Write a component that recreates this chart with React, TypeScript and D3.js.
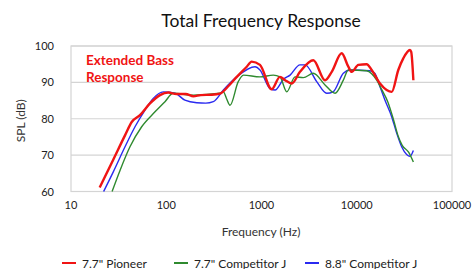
import { useEffect, useRef } from 'react';
import * as d3 from 'd3';

// frequency (Hz) / SPL (dB) pairs
const pioneerHz = [20, 27.6, 37, 43.4, 53, 67.5, 86, 105, 128, 160, 193, 230, 300, 366, 450, 550, 700, 788, 964, 1280, 1563, 1770, 2075, 2535, 3500, 4645, 5460, 6950, 8160, 8850, 10400, 12700, 14350, 17550, 20600, 23300, 27300, 30800, 36200, 37300, 39300];
const pioneerDb = [61.1, 68.6, 75.5, 79.1, 81, 84.2, 86.5, 87.2, 86.8, 86.8, 86.2, 86.5, 86.6, 86.9, 89, 91.5, 94.3, 95.7, 94.8, 88.1, 91.5, 90.6, 89.7, 92.9, 96.1, 90.6, 92.9, 98, 94.3, 92.9, 94.8, 95, 93.4, 89.7, 87.9, 87.4, 93.4, 96.6, 98.9, 98.4, 90.6];

const compJ77Hz = [27, 32.7, 41.6, 55.2, 76.2, 97, 118, 192, 366, 398, 430, 467, 570, 646, 964, 1330, 1563, 1840, 2250, 2750, 3500, 4645, 5920, 7230, 8160, 12700, 16200, 18300, 21300, 24400, 27000, 30000, 35000, 39300];
const compJ77Db = [60, 65.8, 72.3, 77.8, 81.9, 84.7, 87, 86.5, 87, 87.4, 85.5, 83.7, 90.2, 92, 91.5, 92, 91.5, 87.4, 91.5, 91.3, 92.5, 89.3, 87, 90.6, 93.4, 93.2, 90.6, 88, 84.5, 79.6, 75.5, 72.7, 70.8, 68.1];

const compJ88Hz = [22, 27.8, 36.9, 47, 59.8, 73, 93, 124, 157, 209, 260, 312, 398, 550, 855, 964, 1228, 1390, 1695, 1995, 2535, 2870, 3800, 4840, 5650, 7230, 8540, 13700, 15450, 17550, 19800, 23300, 26300, 29600, 33400, 36200, 39300];
const compJ88Db = [60, 65.4, 72.3, 77.8, 82.4, 85.6, 87.4, 87, 85.1, 84.4, 84.3, 84.7, 87.9, 91.5, 94.3, 93.4, 88.3, 87.9, 90.8, 92, 94.8, 94.8, 90.2, 87, 87.4, 92.5, 93.4, 93.2, 92.5, 88.8, 85.1, 80.5, 76, 72.3, 70.2, 69.7, 71.3];

const xTicks = [10, 100, 1000, 10000, 100000];
const yTicks = [60, 70, 80, 90, 100];

const seriesNames = ['7.7" Pioneer', '7.7" Competitor J', '8.8" Competitor J'];
const seriesColors = ['#f01414', '#2f8a2f', '#2a2af0'];

export default function App() {
  const ref = useRef<SVGSVGElement>(null);

  useEffect(() => {
    if (!ref.current) return;
    const svg = d3.select(ref.current);
    svg.selectAll('*').remove();

    const font = 'Lato, "Open Sans", sans-serif';
    const left = 71, right = 452, top = 46, bottom = 191.5;

    const x = d3.scaleLog().domain([10, 100000]).range([left, right]);
    const y = d3.scaleLinear().domain([60, 100]).range([bottom, top]);

    svg.append('rect').attr('width', 476).attr('height', 269).attr('fill', '#fff');

    // title
    svg.append('text')
      .attr('x', 261).attr('y', 27)
      .attr('text-anchor', 'middle')
      .attr('font-family', font).attr('font-size', 17.5).attr('fill', '#111')
      .text('Total Frequency Response');

    // grid
    svg.append('g').selectAll('line')
      .data(yTicks)
      .enter().append('line')
      .attr('x1', left).attr('x2', right)
      .attr('y1', (d: number) => y(d)).attr('y2', (d: number) => y(d))
      .attr('stroke', '#d4d4d4').attr('stroke-width', 1.2);

    svg.append('rect')
      .attr('x', left).attr('y', top)
      .attr('width', right - left).attr('height', bottom - top)
      .attr('fill', 'none').attr('stroke', '#d4d4d4').attr('stroke-width', 1.2);

    // tick labels
    svg.append('g').selectAll('text')
      .data(yTicks)
      .enter().append('text')
      .attr('x', 54).attr('y', (d: number) => y(d) + 4)
      .attr('text-anchor', 'end')
      .attr('font-family', font).attr('font-size', 11).attr('fill', '#222')
      .text((d: number) => d);

    svg.append('g').selectAll('text')
      .data(xTicks)
      .enter().append('text')
      .attr('x', (d: number) => x(d)).attr('y', 209)
      .attr('text-anchor', 'middle')
      .attr('font-family', font).attr('font-size', 11).attr('fill', '#222')
      .text((d: number) => d);

    // axis titles
    svg.append('text')
      .attr('x', 261).attr('y', 236)
      .attr('text-anchor', 'middle')
      .attr('font-family', font).attr('font-size', 12).attr('fill', '#333')
      .text('Frequency (Hz)');

    svg.append('text')
      .attr('transform', `translate(25,${(top + bottom) / 2 + 2}) rotate(-90)`)
      .attr('text-anchor', 'middle')
      .attr('font-family', font).attr('font-size', 12).attr('fill', '#333')
      .text('SPL (dB)');

    // curves
    const series = [
      { hz: compJ88Hz, db: compJ88Db, color: seriesColors[2], w: 1.4 },
      { hz: compJ77Hz, db: compJ77Db, color: seriesColors[1], w: 1.4 },
      { hz: pioneerHz, db: pioneerDb, color: seriesColors[0], w: 2.4 },
    ];

    const line = d3.line<[number, number]>()
      .x((d: [number, number]) => x(d[0]))
      .y((d: [number, number]) => y(d[1]))
      .curve(d3.curveMonotoneX);

    series.forEach(s => {
      const pts = s.hz.map((h, i) => [h, s.db[i]] as [number, number]);
      svg.append('path')
        .datum(pts)
        .attr('fill', 'none')
        .attr('stroke', s.color)
        .attr('stroke-width', s.w)
        .attr('stroke-linejoin', 'round')
        .attr('d', line);
    });

    // annotation
    const ann = svg.append('text')
      .attr('font-family', font).attr('font-size', 13.5).attr('font-weight', 'bold')
      .attr('fill', '#f01414');
    ann.append('tspan').attr('x', 86).attr('y', 65).text('Extended Bass');
    ann.append('tspan').attr('x', 86).attr('y', 82).text('Response');

    // legend
    const lx = [62, 174, 305];
    seriesNames.forEach((name, i) => {
      svg.append('line')
        .attr('x1', lx[i]).attr('x2', lx[i] + 14)
        .attr('y1', 263).attr('y2', 263)
        .attr('stroke', seriesColors[i]).attr('stroke-width', 2);
      svg.append('text')
        .attr('x', lx[i] + 20).attr('y', 267.5)
        .attr('font-family', font).attr('font-size', 12).attr('fill', '#222')
        .text(name);
    });
  }, []);

  return (
    <svg ref={ref} width={476} height={269}
      style={{ position: 'absolute', left: 0, top: 0 }} />
  );
}
